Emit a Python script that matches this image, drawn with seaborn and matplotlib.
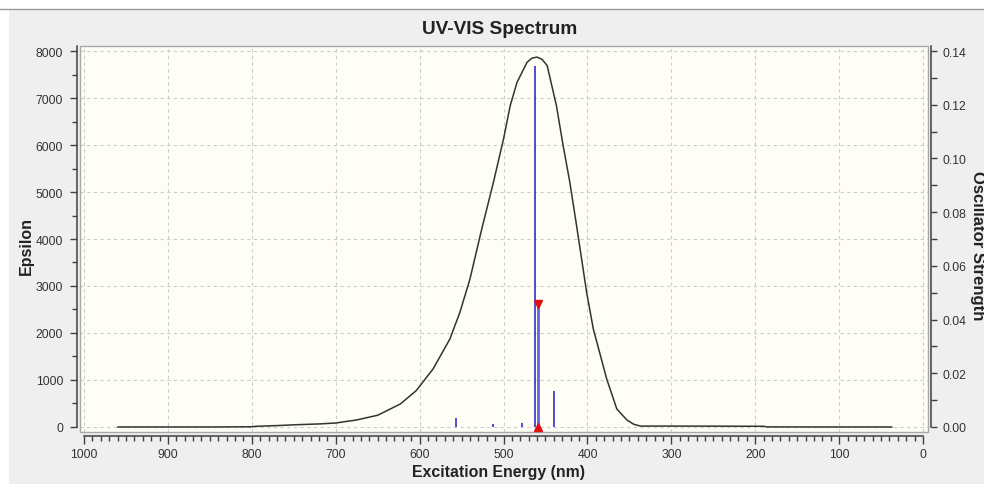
import numpy as np
import pandas as pd
import seaborn as sns
import matplotlib.pyplot as plt
from matplotlib.patches import Rectangle
from matplotlib.lines import Line2D
from matplotlib.ticker import MultipleLocator, FormatStrFormatter

# broadened spectrum
curve_nm = [960, 900, 850, 800, 795, 770, 745, 720, 700, 675, 650, 623, 604, 584,
            564, 552, 540, 526, 512, 500, 492, 484, 472, 466, 460, 454, 448, 437,
            429, 421, 413, 401, 393, 377, 365, 353, 345, 337, 300, 250, 190, 186,
            100, 37]
curve_eps = [0, 0, 0, 5, 15, 30, 50, 65, 85, 150, 250, 490, 775, 1235,
             1870, 2440, 3150, 4210, 5210, 6130, 6840, 7330, 7760, 7850, 7870, 7820, 7690, 6840,
             5990, 5210, 4290, 2870, 2085, 1020, 383, 150, 60, 20, 20, 18, 15, 2,
             0, 0]

# transitions (oscillator strengths)
stick_nm = [557, 512, 478, 463, 440]
stick_f = [0.0033, 0.0010, 0.0015, 0.1345, 0.0135]
sel_nm = [459]
sel_f = [0.0458]

sns.set_theme(style='ticks')
plt.rcParams['font.family'] = ['Liberation Sans', 'DejaVu Sans']

W, H = 984, 485
fig = plt.figure(figsize=(W / 100, H / 100), dpi=100, facecolor='white')
fig.add_artist(Rectangle((9 / W, 0), 1, (H - 10) / H, transform=fig.transFigure,
                         facecolor='#efefef', edgecolor='none', zorder=0))
fig.add_artist(Line2D([0, 1], [1 - 10 / H] * 2, transform=fig.transFigure,
                      color='#9a9a9a', lw=1))

ax = fig.add_axes([80 / W, 1 - 433 / H, 848 / W, 386 / H])
ax.set_facecolor('#fefef6')

df = pd.DataFrame({'nm': curve_nm, 'eps': curve_eps})
sns.lineplot(data=df, x='nm', y='eps', ax=ax, color='#333333', lw=1.1,
             estimator=None, zorder=3)
ax.set_xlabel('')
ax.set_ylabel('')

ax.set_xlim(1004.8, -5.9)
ax.set_ylim(-106.4, 8106.4)
ax.xaxis.set_major_locator(MultipleLocator(100))
ax.xaxis.set_minor_locator(MultipleLocator(10))
ax.yaxis.set_major_locator(MultipleLocator(1000))
ax.yaxis.set_minor_locator(MultipleLocator(500))
ax.grid(True, which='major', ls=(0, (3, 3)), color='#cccccc', lw=0.8)

ax2 = ax.twinx()
ax2.set_ylim(-106.4 / 8000 * 0.14, 8106.4 / 8000 * 0.14)
ax2.yaxis.set_major_locator(MultipleLocator(0.02))
ax2.yaxis.set_minor_locator(MultipleLocator(0.01))
ax2.yaxis.set_major_formatter(FormatStrFormatter('%.2f'))
ax2.grid(False)

ax2.vlines(stick_nm, 0, stick_f, colors='#3030c0', lw=1.2)
ax2.vlines(sel_nm, 0, sel_f, colors='#6464e6', lw=2)
ax2.plot(sel_nm, sel_f, marker='v', color='#e01010', ms=6, ls='none', clip_on=False)
ax2.plot(sel_nm, [0], marker='^', color='#e01010', ms=6, ls='none', clip_on=False)

# frame around plot area
ax.add_patch(Rectangle((0, 0), 1, 1, transform=ax.transAxes, fill=False,
                       ec='#a8a8a8', lw=1, clip_on=False, zorder=5))

for a in (ax, ax2):
    a.spines['top'].set_visible(False)
    for s in a.spines.values():
        s.set_color('#404040')
        s.set_linewidth(1.1)
ax.spines['right'].set_visible(False)
ax.spines['left'].set_position(('outward', 2.2))
ax.spines['bottom'].set_position(('outward', 2.9))
ax.spines['left'].set_bounds(0, 8106)
ax.spines['bottom'].set_bounds(0, 1000)
ax2.spines['left'].set_visible(False)
ax2.spines['bottom'].set_visible(False)
ax2.spines['right'].set_position(('outward', 2.2))
ax2.spines['right'].set_bounds(0, 0.1418)

ax.tick_params(axis='x', which='major', bottom=True, direction='out', length=5.8,
               width=1, color='#404040', labelcolor='#333333', labelsize=8.7, pad=3)
ax.tick_params(axis='x', which='minor', bottom=True, direction='out', length=3.6,
               width=1, color='#404040')
ax.tick_params(axis='y', which='major', left=True, direction='out', length=5,
               width=1, color='#404040', labelcolor='#333333', labelsize=8.7, pad=5)
ax.tick_params(axis='y', which='minor', left=True, direction='out', length=3.6,
               width=1, color='#404040')
ax2.tick_params(axis='y', which='major', right=True, direction='out', length=4.5,
                width=1, color='#404040', labelcolor='#333333', labelsize=8.7, pad=3.5)
ax2.tick_params(axis='y', which='minor', right=True, direction='out', length=4.5,
                width=1, color='#404040')

fig.text(500 / W, 1 - 29 / H, 'UV-VIS Spectrum', ha='center', va='center',
         fontsize=13.7, fontweight='bold', color='#222222')
fig.text(499 / W, 1 - 473 / H, 'Excitation Energy (nm)', ha='center', va='center',
         fontsize=11.4, fontweight='bold', color='#222222')
fig.text(26 / W, 1 - 246 / H, 'Epsilon', ha='center', va='center', rotation=90,
         fontsize=11.5, fontweight='bold', color='#222222')
fig.text(977 / W, 1 - 246 / H, 'Oscillator Strength', ha='center', va='center',
         rotation=-90, fontsize=12, fontweight='bold', color='#222222')

fig.savefig('out.png', dpi=100, facecolor=fig.get_facecolor())
